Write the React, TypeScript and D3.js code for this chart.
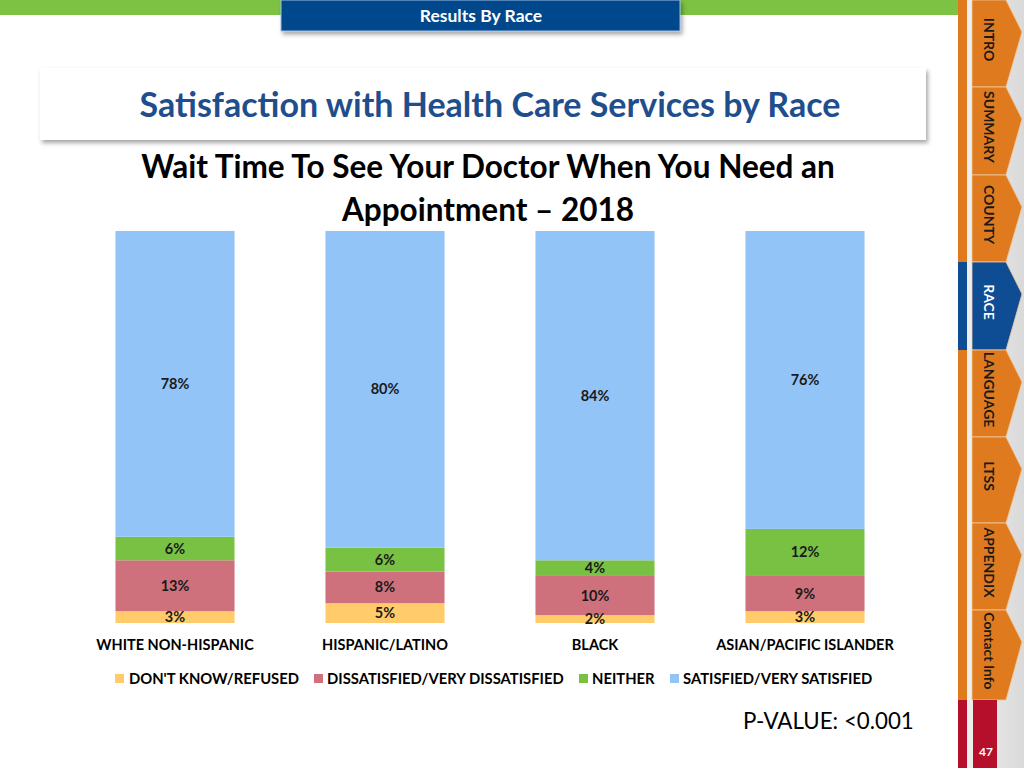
import React from "react";
import * as d3 from "d3";

const categories = ["WHITE NON-HISPANIC", "HISPANIC/LATINO", "BLACK", "ASIAN/PACIFIC ISLANDER"];
const seriesNames = ["DON'T KNOW/REFUSED", "DISSATISFIED/VERY DISSATISFIED", "NEITHER", "SATISFIED/VERY SATISFIED"];
const dontKnow = [3, 5, 2, 3];
const dissatisfied = [13, 8, 10, 9];
const neither = [6, 6, 4, 12];
const satisfied = [78, 80, 84, 76];
const seriesColors = ["#FFCB6B", "#CE717D", "#79C143", "#93C4F8"];
const navTabs = ["INTRO", "SUMMARY", "COUNTY", "RACE", "LANGUAGE", "LTSS", "APPENDIX", "Contact Info"];
const navTops = [0, 87, 175, 262, 350, 437, 523, 610, 700];

const FONT = "Lato, 'Open Sans', sans-serif";

export default function App() {
  const keys = ["k0", "k1", "k2", "k3"];
  const seriesValues = [dontKnow, dissatisfied, neither, satisfied];
  const table = categories.map((c, i) => {
    const row: any = { cat: c };
    keys.forEach((k, j) => (row[k] = seriesValues[j][i]));
    return row;
  });
  const stacked = d3.stack<any>().keys(keys).offset(d3.stackOffsetExpand)(table);

  const x = d3.scaleBand<string>().domain(categories).range([70, 910]).paddingInner(0.433).paddingOuter(0.2165);
  const y = d3.scaleLinear().domain([0, 1]).range([623, 231]);

  const orange = "#DF7B1E";
  const blue = "#0E4C94";
  const red = "#B50F2B";

  const legendItems = [
    { sx: 115, tx: 129 },
    { sx: 314, tx: 327 },
    { sx: 579, tx: 592 },
    { sx: 670, tx: 683 },
  ];

  return (
    <svg width={1024} height={768} style={{ position: "absolute", left: 0, top: 0, background: "#fff" }}>
      <defs>
        <filter id="sh" x="-5%" y="-20%" width="110%" height="160%">
          <feDropShadow dx="2" dy="3" stdDeviation="2" floodColor="#000" floodOpacity="0.35" />
        </filter>
        <linearGradient id="navbg" x1="0" x2="1" y1="0" y2="0">
          <stop offset="0" stopColor="#f2f2f2" />
          <stop offset="1" stopColor="#d9d9d9" />
        </linearGradient>
      </defs>

      {/* top green bar */}
      <rect x={0} y={0} width={958} height={15} fill="#7DC242" />
      {/* header box */}
      <rect x={281} y={0} width={399} height={31} fill="#00468C" stroke="#9DBDE3" strokeWidth={1} filter="url(#sh)" />
      <text x={481} y={22} textAnchor="middle" fill="#fff" fontFamily={FONT} fontWeight={700} fontSize={17.5}>
        Results By Race
      </text>

      {/* title box */}
      <rect x={40} y={68} width={886} height={72} fill="#fff" filter="url(#sh)" />
      <text x={490} y={117} textAnchor="middle" fill="#1F4E8D" fontFamily={FONT} fontWeight={700} fontSize={34}>
        Satisfaction with Health Care Services by Race
      </text>

      {/* subtitle */}
      <text x={488} y={178} textAnchor="middle" fill="#000" fontFamily={FONT} fontWeight={700} fontSize={31.5}>
        Wait Time To See Your Doctor When You Need an
      </text>
      <text x={488} y={221} textAnchor="middle" fill="#000" fontFamily={FONT} fontWeight={700} fontSize={31.5}>
        Appointment – 2018
      </text>

      {/* bars */}
      {stacked.map((s, si) => (
        <g key={si}>
          {s.map((d, ci) => (
            <rect
              key={ci}
              x={x(categories[ci])}
              width={x.bandwidth()}
              y={y(d[1])}
              height={y(d[0]) - y(d[1])}
              fill={seriesColors[si]}
            />
          ))}
        </g>
      ))}
      {stacked.map((s, si) => (
        <g key={"l" + si}>
          {s.map((d, ci) => (
            <text
              key={ci}
              x={(x(categories[ci]) as number) + x.bandwidth() / 2}
              y={(y(d[0]) + y(d[1])) / 2 + 5}
              textAnchor="middle"
              fontFamily={FONT}
              fontWeight={700}
              fontSize={14.5}
              fill="#1a1a1a"
            >
              {seriesValues[si][ci]}%
            </text>
          ))}
        </g>
      ))}

      {/* category labels */}
      {categories.map((c) => (
        <text
          key={c}
          x={(x(c) as number) + x.bandwidth() / 2}
          y={650}
          textAnchor="middle"
          fontFamily={FONT}
          fontWeight={700}
          fontSize={14.5}
          fill="#000"
        >
          {c}
        </text>
      ))}

      {/* legend */}
      {seriesNames.map((n, i) => (
        <g key={n}>
          <rect x={legendItems[i].sx} y={674} width={9} height={9} fill={seriesColors[i]} />
          <text x={legendItems[i].tx} y={684} fontFamily={FONT} fontWeight={700} fontSize={14.8} fill="#000">
            {n}
          </text>
        </g>
      ))}

      {/* p-value */}
      <text x={743} y={729} fontFamily={FONT} fontSize={22.3} fill="#000">
        P-VALUE: &lt;0.001
      </text>

      {/* right navigation */}
      <rect x={958} y={0} width={66} height={768} fill="url(#navbg)" />
      <rect x={967} y={0} width={5} height={768} fill="#eeeeee" />
      {navTabs.map((t, i) => {
        const y0 = navTops[i];
        const y1 = navTops[i + 1];
        const col = t === "RACE" ? blue : orange;
        const cy = (y0 + y1) / 2 - 4;
        return (
          <g key={t}>
            <rect x={958} y={y0} width={9} height={y1 - y0} fill={col} />
            <path
              d={`M972,${y0} L1006,${y0} L1022,${y0 + 32} L1006,${y1} L972,${y1} Z`}
              fill={col}
              stroke="#F3C99C"
              strokeWidth={0.8}
            />
            <text
              transform={`translate(984,${cy}) rotate(90)`}
              textAnchor="middle"
              fontFamily={FONT}
              fontWeight={700}
              fontSize={14}
              fill={t === "RACE" ? "#fff" : "#1a1a1a"}
            >
              {t}
            </text>
          </g>
        );
      })}
      <rect x={958} y={700} width={9} height={68} fill={red} />
      <rect x={973} y={700} width={24} height={68} fill={red} />
      <text x={986} y={756} textAnchor="middle" fontFamily={FONT} fontWeight={700} fontSize={12} fill="#fff">
        47
      </text>
    </svg>
  );
}
